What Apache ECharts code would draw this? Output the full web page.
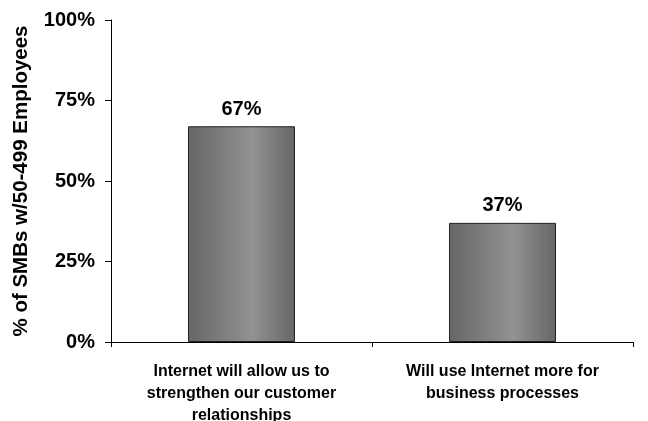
<!DOCTYPE html>
<html>
<head>
<meta charset="utf-8">
<script src="https://cdn.jsdelivr.net/npm/echarts@6/dist/echarts.min.js"></script>
<style>html,body{margin:0;padding:0;background:#fff}#c{width:648px;height:421px}</style>
</head>
<body>
<div id="c"></div>
<script>
const categories = ["Internet will allow us to\nstrengthen our customer\nrelationships", "Will use Internet more for\nbusiness processes"];
const values = [67, 37];
const yTicks = [0, 25, 50, 75, 100];
const yTitle = "% of SMBs w/50-499 Employees";

const chart = echarts.init(document.getElementById('c'), null, {renderer: 'canvas'});
const font = 'Arial, "Liberation Sans", sans-serif';
chart.setOption({
  animation: false,
  backgroundColor: '#fff',
  grid: {left: 111, right: 15, top: 20, bottom: 79, containLabel: false, outerBoundsMode: 'none'},
  xAxis: {
    type: 'category',
    data: categories,
    axisLine: {lineStyle: {color: '#000', width: 1}},
    axisTick: {show: true, length: 5, lineStyle: {color: '#000'}},
    axisLabel: {color: '#000', fontFamily: font, fontWeight: 'bold', fontSize: 16, lineHeight: 22, margin: 19, interval: 0}
  },
  yAxis: {
    type: 'value',
    min: yTicks[0], max: yTicks[yTicks.length - 1], interval: 25,
    name: yTitle,
    nameLocation: 'middle',
    nameGap: 79,
    nameRotate: 90,
    nameTextStyle: {color: '#000', fontFamily: font, fontWeight: 'bold', fontSize: 20.5},
    axisLine: {show: true, lineStyle: {color: '#000', width: 1}},
    axisTick: {show: true, length: 6, lineStyle: {color: '#000'}},
    splitLine: {show: false},
    axisLabel: {color: '#000', fontFamily: font, fontWeight: 'bold', fontSize: 20, margin: 16, formatter: '{value}%'}
  },
  series: [{
    type: 'bar',
    data: values,
    barWidth: '41%',
    itemStyle: {
      color: {
        type: 'linear', x: 0, y: 0, x2: 1, y2: 0,
        colorStops: [
          {offset: 0, color: '#666666'},
          {offset: 0.6, color: '#929292'},
          {offset: 1, color: '#666666'}
        ]
      },
      borderColor: '#222',
      borderWidth: 1
    },
    label: {
      show: true, position: 'top', distance: 7,
      formatter: '{c}%',
      color: '#000', fontFamily: font, fontWeight: 'bold', fontSize: 20
    }
  }]
});
</script>
</body>
</html>
